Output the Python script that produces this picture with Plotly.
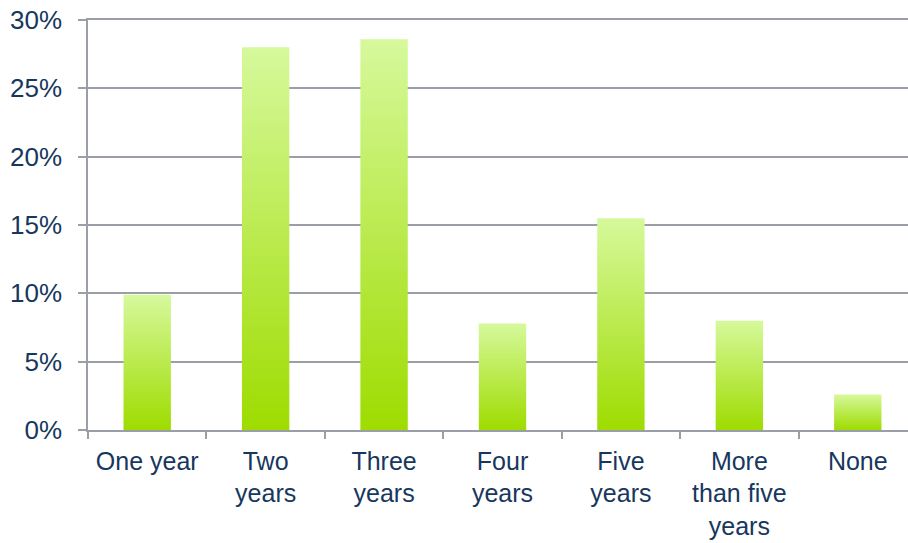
import plotly.graph_objects as go

categories = ["One year", "Two<br>years", "Three<br>years", "Four<br>years",
              "Five<br>years", "More<br>than five<br>years", "None"]
values = [9.9, 28.0, 28.6, 7.8, 15.5, 8.0, 2.6]
y_ticks = [0, 5, 10, 15, 20, 25, 30]
y_tick_labels = ["0%", "5%", "10%", "15%", "20%", "25%", "30%"]

BAR_W = 0.40
TEXT = "#17375e"
GRID = "#9a9ea6"
FONT = "Liberation Sans, Arial, sans-serif"

fig = go.Figure()
for i, (cat, v) in enumerate(zip(categories, values)):
    x0, x1 = i - BAR_W / 2, i + BAR_W / 2
    fig.add_trace(go.Scatter(
        x=[x0, x0, x1, x1, x0], y=[0, v, v, 0, 0],
        mode="lines", fill="toself", line=dict(width=0),
        fillgradient=dict(type="vertical",
                          colorscale=[[0, "#9edc00"], [1, "#d6f99c"]]),
        name=cat.replace("<br>", " "), hoverinfo="text",
        text=f"{cat.replace('<br>', ' ')}: {v}%", showlegend=False,
    ))

fig.update_layout(
    width=908, height=543,
    margin=dict(l=88, r=0, t=20, b=112.5),
    paper_bgcolor="white", plot_bgcolor="white",
    font=dict(family=FONT, size=26, color=TEXT),
    showlegend=False,
)
fig.update_xaxes(
    range=[-0.5, 6.424], automargin=False,
    tickmode="array",
    tickvals=list(range(len(categories))), ticktext=categories,
    ticks="", showgrid=False, zeroline=False,
    showline=True, mirror=True, linecolor=GRID, linewidth=1.5,
    minor=dict(tickvals=[i - 0.5 for i in range(len(categories) + 1)],
               ticks="outside", ticklen=7, tickcolor=GRID, tickwidth=1.5,
               showgrid=False),
    ticklabelstandoff=8,
    tickfont=dict(size=25, color=TEXT),
)
fig.update_yaxes(
    range=[0, 30], automargin=False,
    tickmode="array", tickvals=y_ticks, ticktext=y_tick_labels,
    showgrid=True, gridcolor=GRID, gridwidth=1.5,
    zeroline=False, showline=True, linecolor=GRID, linewidth=1.5,
    ticks="outside", ticklen=8, tickcolor=GRID, tickwidth=1.5,
    ticklabelstandoff=11, ticklabeloverflow="allow",
    tickfont=dict(size=26, color=TEXT),
)
fig.write_html("out.html",
               config={"displayModeBar": False},
               post_script="document.body.style.margin='0';")
